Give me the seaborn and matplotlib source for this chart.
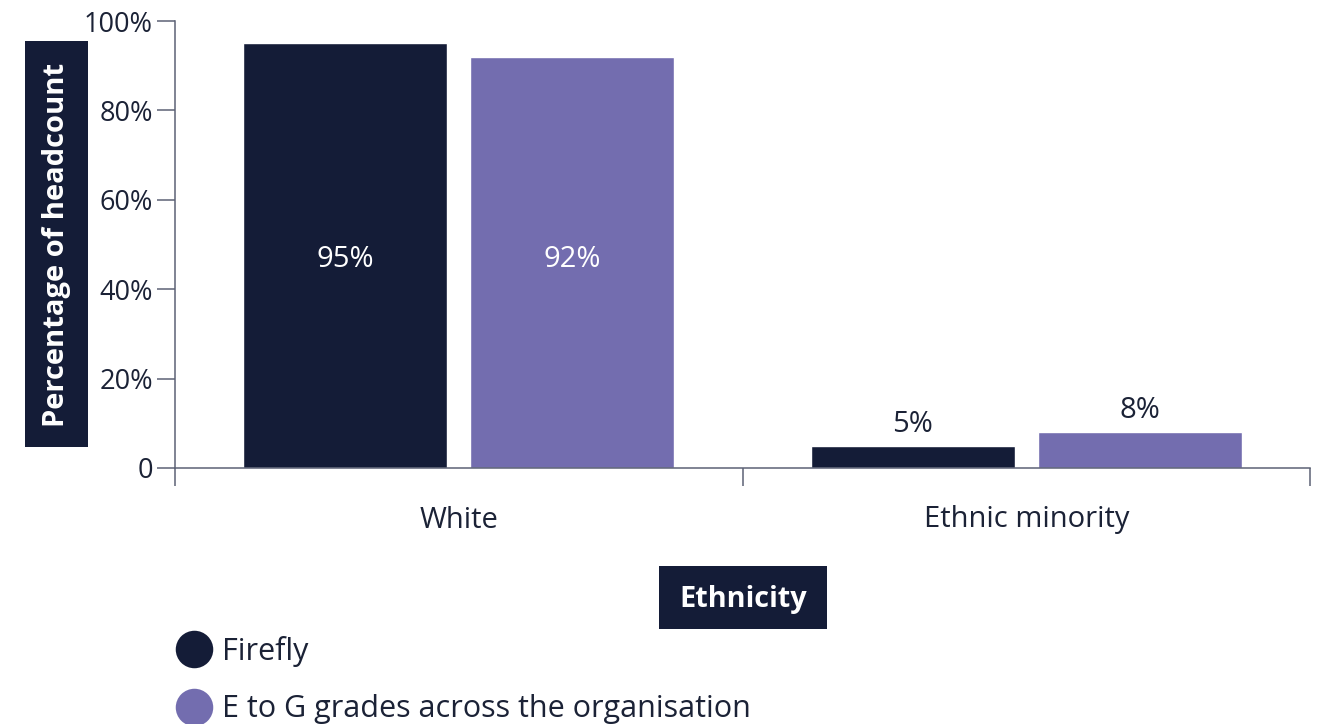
import matplotlib
matplotlib.use("Agg")
import matplotlib.pyplot as plt
from matplotlib.lines import Line2D
from matplotlib.patches import Rectangle
import seaborn as sns
import pandas as pd

# Data
categories = ["White", "Ethnic minority"]
series_names = ["Firefly", "E to G grades across the organisation"]
firefly_values = [95, 5]
org_values = [92, 8]
y_ticks = [0, 20, 40, 60, 80, 100]
y_tick_labels = ["0", "20%", "40%", "60%", "80%", "100%"]

NAVY = "#141c37"
PURPLE = "#736daf"
AXIS = "#5c6275"
TEXT = "#1b2236"

W, H = 1326, 724

df = pd.DataFrame({
    "Ethnicity": categories * 2,
    "Group": [series_names[0]] * 2 + [series_names[1]] * 2,
    "Value": firefly_values + org_values,
})

sns.set_theme(style="white")
plt.rcParams["font.family"] = ["Open Sans", "DejaVu Sans"]

fig = plt.figure(figsize=(W / 100, H / 100), dpi=100)
ax = fig.add_axes([175 / W, 1 - 468 / H, (1310 - 175) / W, (468 - 21) / H])

sns.barplot(data=df, x="Ethnicity", y="Value", hue="Group",
            palette=[NAVY, PURPLE], width=0.8, gap=0.1, saturation=1,
            order=categories, hue_order=series_names, ax=ax, legend=False)

ax.set_xlim(-0.5, 1.5)
ax.set_ylim(0, 100)

# Value labels: tall bars share a mid-height label, short ones sit above
group_max = {c: max(f, o) for c, f, o in zip(categories, firefly_values, org_values)}
for container in ax.containers:
    for i, bar in enumerate(container):
        h = bar.get_height()
        cx = bar.get_x() + bar.get_width() / 2
        if h > 50:
            ax.annotate(f"{h:.0f}%", (cx, group_max[categories[i]] / 2),
                        xytext=(0, -3), textcoords="offset points",
                        ha="center", va="center", color="white", fontsize=21)
        else:
            ax.annotate(f"{h:.0f}%", (cx, h), xytext=(0, 5),
                        textcoords="offset points", ha="center", va="bottom",
                        color=TEXT, fontsize=21)

# Axes styling
for side in ["top", "right"]:
    ax.spines[side].set_visible(False)
for side in ["left", "bottom"]:
    ax.spines[side].set_color(AXIS)
    ax.spines[side].set_linewidth(1.1)

ax.set_yticks(y_ticks)
ax.set_yticklabels(y_tick_labels)
ax.tick_params(axis="y", direction="out", length=13, width=1.1, color=AXIS,
               pad=3, labelsize=19.5, labelcolor=TEXT, left=True)

ax.set_xticks([-0.5, 0.5, 1.5])
ax.set_xticklabels([])
ax.tick_params(axis="x", which="major", direction="out", length=13, width=1.1,
               color=AXIS, bottom=True)
ax.set_xticks([0, 1], minor=True)
ax.set_xticklabels(categories, minor=True)
ax.tick_params(axis="x", which="minor", length=0, pad=27, labelsize=21,
               labelcolor=TEXT)

ax.set_xlabel("")
ax.set_ylabel("")

# Axis titles on dark panels
def title_panel(x0, y0, x1, y1):
    fig.add_artist(Rectangle((x0 / W, 1 - y1 / H), (x1 - x0) / W, (y1 - y0) / H,
                             transform=fig.transFigure, facecolor=NAVY,
                             edgecolor="none", zorder=1))

title_panel(25, 41, 88, 447)
fig.text(57 / W, 1 - 245 / H, "Percentage of headcount", rotation=90,
         ha="center", va="center", color="white", fontsize=21,
         fontweight="bold", zorder=2)
title_panel(659, 566, 827, 629)
fig.text(743 / W, 1 - 600 / H, "Ethnicity", ha="center", va="center",
         color="white", fontsize=20.8, fontweight="bold", zorder=2)

# Legend
handles = [Line2D([0], [0], marker="o", linestyle="none", markersize=27,
                  markerfacecolor=c, markeredgecolor="none") for c in (NAVY, PURPLE)]
fig.legend(handles, series_names, loc="upper left",
           bbox_to_anchor=(179 / W, 1 - 636 / H), frameon=False,
           fontsize=22, labelcolor=TEXT, handlelength=1.0, handletextpad=0.4,
           labelspacing=0.9, borderpad=0, borderaxespad=0)

fig.savefig("out.png", dpi=100)
